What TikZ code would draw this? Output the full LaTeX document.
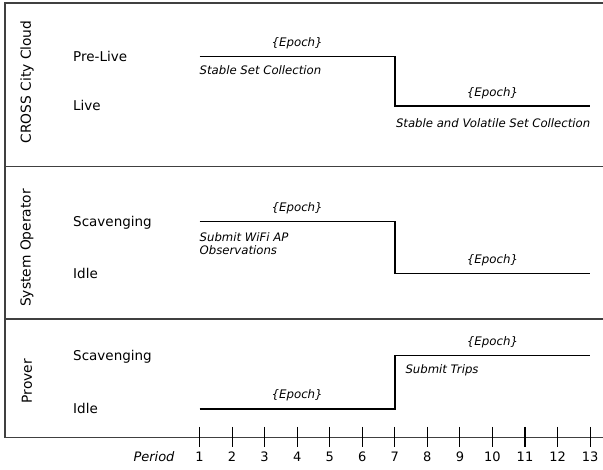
\documentclass[tikz,border=0pt]{standalone}
\usepackage{fontspec}
\setmainfont{DejaVu Sans}
\usetikzlibrary{calc}

\begin{document}
\begin{tikzpicture}[x=1pt, y=-1pt,
    actor/.style={rotate=90, inner sep=0pt, font=\fontsize{13.8}{16}\selectfont},
    state/.style={anchor=west, inner sep=0pt, text height=9.8pt, text depth=0pt, font=\fontsize{13.5}{16}\selectfont},
    epoch/.style={inner sep=0pt, font=\itshape\fontsize{11.8}{13}\selectfont},
    note/.style={anchor=west, align=left, inner sep=0pt, font=\itshape\fontsize{11.7}{12.8}\selectfont},
    frame/.style={line width=1.2pt, black!75},
    level/.style={line width=1.9pt, black},
    tickmark/.style={line width=1.1pt, black}]

    \useasboundingbox (0,0) rectangle (603,470);

    % ===== FRAME =====
    \draw[frame] (603,3) -- (5,3) -- (5,437.5) -- (603,437.5);
    \draw[frame] (5,166.5) -- (603,166.5);
    \draw[frame] (5,319) -- (603,319);

    % ===== PERIODS =====
    \node[font=\itshape\fontsize{13}{15}\selectfont, inner sep=0pt] (period) at (154,456.7) {Period};
    \foreach \i in {1,...,13} {
        \coordinate (p\i) at ({199.5+(\i-1)*32.55}, 437.5);
        \draw[tickmark] ($(p\i)+(0,-10.5)$) -- ($(p\i)+(0,10)$);
        \node[inner sep=0pt, font=\fontsize{13}{15}\selectfont] (n\i) at ($(p\i)+(0,19.2)$) {\i};
    }

    % ===== CROSS CITY CLOUD =====
    \node[actor] (cloud) at (27,82) {CROSS City Cloud};
    \node[state] (prelive) at (73,56.5) {Pre-Live};
    \node[state] (live) at (73,106) {Live};

    \draw[level] (p1 |- prelive) -- (p7 |- prelive) -- (p7 |- live) -- (p13 |- live);
    \node[epoch] (ep1) at ($(p4 |- prelive)+(0,-13)$) {\{Epoch\}};
    \node[epoch] (ep2) at ($(p10 |- live)+(0,-13)$) {\{Epoch\}};
    \node[note] (stable) at ($(p1 |- prelive)+(0,14)$) {Stable Set Collection};
    \node[note] (volatile) at ($(p7 |- live)+(1,17)$) {Stable and Volatile Set Collection};

    % ===== SYSTEM OPERATOR =====
    \node[actor] (sysop) at (27,248) {System Operator};
    \node[state] (opscav) at (73,221.5) {Scavenging};
    \node[state] (opidle) at (73,273.5) {Idle};

    \draw[level] (p1 |- opscav) -- (p7 |- opscav) -- (p7 |- opidle) -- (p13 |- opidle);
    \node[epoch] (ep3) at ($(p4 |- opscav)+(0,-13)$) {\{Epoch\}};
    \node[epoch] (ep4) at ($(p10 |- opidle)+(0,-13)$) {\{Epoch\}};
    \node[note] (wifi) at ($(p1 |- opscav)+(0,22)$) {Submit WiFi AP\\Observations};

    % ===== PROVER =====
    \node[actor] (prover) at (27,381) {Prover};
    \node[state] (prscav) at (73,355.5) {Scavenging};
    \node[state] (pridle) at (73,409) {Idle};

    \draw[level] (p1 |- pridle) -- (p7 |- pridle) -- (p7 |- prscav) -- (p13 |- prscav);
    \node[epoch] (ep5) at ($(p4 |- pridle)+(0,-13.5)$) {\{Epoch\}};
    \node[epoch] (ep6) at ($(p10 |- prscav)+(0,-13)$) {\{Epoch\}};
    \node[note] (trips) at ($(p7 |- prscav)+(10.5,14.5)$) {Submit Trips};
\end{tikzpicture}
\end{document}
